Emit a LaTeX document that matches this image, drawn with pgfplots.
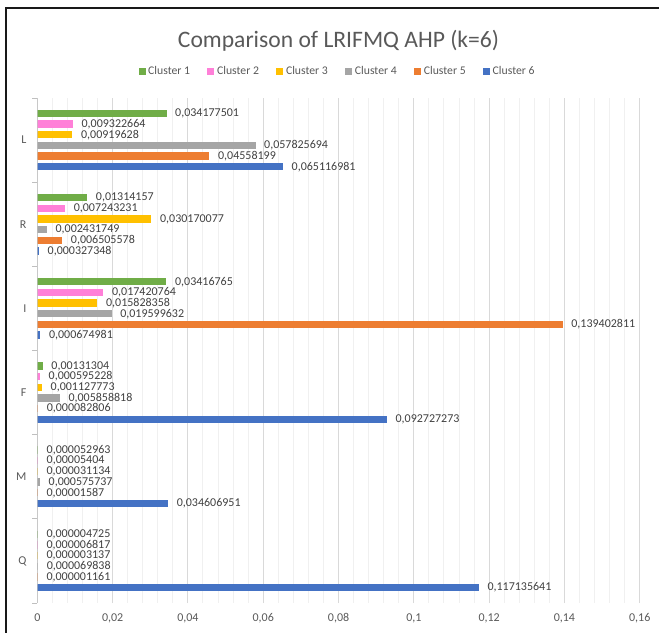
\documentclass[border=0pt]{standalone}
\usepackage{fontspec}
\setmainfont{Carlito}
\usepackage{pgfplots}
\usepackage{pgfplotstable}
\pgfplotsset{compat=1.18}
\definecolor{cA}{HTML}{70AD47}
\definecolor{cB}{HTML}{FF80D8}
\definecolor{cC}{HTML}{FFC000}
\definecolor{cD}{HTML}{A5A5A5}
\definecolor{cE}{HTML}{ED7D31}
\definecolor{cF}{HTML}{4472C4}
\definecolor{txtgray}{HTML}{595959}
\definecolor{lblgray}{HTML}{404040}
\definecolor{gridmaj}{HTML}{D9D9D9}
\definecolor{gridmin}{HTML}{F0F0F0}
\definecolor{axisgray}{HTML}{BFBFBF}

% y: Q=0, M=1, F=2, I=3, R=4, L=5
\pgfplotstableread{
y x lab
5 0.034177501 0,034177501
4 0.01314157 0,01314157
3 0.03416765 0,03416765
2 0.00131304 0,00131304
1 0.000052963 0,000052963
0 0.000004725 0,000004725
}\tabA
\pgfplotstableread{
y x lab
5 0.009322664 0,009322664
4 0.007243231 0,007243231
3 0.017420764 0,017420764
2 0.000595228 0,000595228
1 0.00005404 0,00005404
0 0.000006817 0,000006817
}\tabB
\pgfplotstableread{
y x lab
5 0.00919628 0,00919628
4 0.030170077 0,030170077
3 0.015828358 0,015828358
2 0.001127773 0,001127773
1 0.000031134 0,000031134
0 0.000003137 0,000003137
}\tabC
\pgfplotstableread{
y x lab
5 0.057825694 0,057825694
4 0.002431749 0,002431749
3 0.019599632 0,019599632
2 0.005858818 0,005858818
1 0.000575737 0,000575737
0 0.000069838 0,000069838
}\tabD
\pgfplotstableread{
y x lab
5 0.04558199 0,04558199
4 0.006505578 0,006505578
3 0.139402811 0,139402811
2 0.000082806 0,000082806
1 0.00001587 0,00001587
0 0.000001161 0,000001161
}\tabE
\pgfplotstableread{
y x lab
5 0.065116981 0,065116981
4 0.000327348 0,000327348
3 0.000674981 0,000674981
2 0.092727273 0,092727273
1 0.034606951 0,034606951
0 0.117135641 0,117135641
}\tabF

\begin{document}
\begin{tikzpicture}
\useasboundingbox (0,0) rectangle (494.25pt,474pt);
\begin{axis}[
  at={(28pt,21.75pt)}, anchor=south west,
  scale only axis, width=451.8pt, height=378.75pt,
  xbar, bar width=0.076,
  xmin=0, xmax=0.16, ymin=-0.5, ymax=5.5,
  xtick={0,0.02,0.04,0.06,0.08,0.1,0.12,0.14,0.16},
  xticklabels={0,{0,02},{0,04},{0,06},{0,08},{0,1},{0,12},{0,14},{0,16}},
  minor x tick num=4,
  xmajorgrids, xminorgrids,
  major grid style={draw=gridmaj, line width=0.75pt},
  minor grid style={draw=gridmin, line width=0.75pt},
  ytick={0,1,2,3,4,5}, yticklabels={Q,M,F,I,R,L},
  extra y ticks={-0.5,0.5,1.5,2.5,3.5,4.5,5.5}, extra y tick labels={},
  extra y tick style={major tick length=3.75pt, tick align=outside, tick style={draw=axisgray, line width=0.75pt}},
  major tick length=0pt, minor tick length=0pt,
  ytick pos=left, xtick pos=bottom,
  axis line style={draw=none},
  xticklabel style={font=\fontsize{9}{10}\selectfont, text=txtgray, inner sep=0pt, anchor=north, yshift=-7.5pt},
  yticklabel style={font=\fontsize{9}{10}\selectfont, text=txtgray, inner sep=0pt, anchor=east, xshift=-8pt},
  point meta=explicit symbolic,
  nodes near coords,
  nodes near coords style={font=\fontsize{9}{9}\selectfont, text=lblgray, inner sep=0pt, anchor=west, xshift=6.5pt},
  title={Comparison of LRIFMQ AHP (k=6)},
  title style={at={(0.5,1)}, anchor=center, yshift=37pt, font=\fontsize{17.7}{20}\selectfont, text=txtgray},
  legend columns=6,
  legend style={at={(0.499,1)}, anchor=center, yshift=20pt, draw=none, fill=none,
    font=\fontsize{8.8}{10}\selectfont, text=txtgray,
    /tikz/every even column/.append style={column sep=11pt}},
  legend cell align=left,
  legend image code/.code={\fill[#1] (0pt,-2.25pt) rectangle (4.5pt,2.25pt);},
]
\addplot[fill=cA, draw=cA, line width=0.75pt, bar shift=0.317] table[x=x, y=y, meta=lab] {\tabA};
\addlegendentry{Cluster 1}
\addplot[fill=cB, draw=cB, line width=0.75pt, bar shift=0.190] table[x=x, y=y, meta=lab] {\tabB};
\addlegendentry{Cluster 2}
\addplot[fill=cC, draw=cC, line width=0.75pt, bar shift=0.063] table[x=x, y=y, meta=lab] {\tabC};
\addlegendentry{Cluster 3}
\addplot[fill=cD, draw=cD, line width=0.75pt, bar shift=-0.063] table[x=x, y=y, meta=lab] {\tabD};
\addlegendentry{Cluster 4}
\addplot[fill=cE, draw=cE, line width=0.75pt, bar shift=-0.190] table[x=x, y=y, meta=lab] {\tabE};
\addlegendentry{Cluster 5}
\addplot[fill=cF, draw=cF, line width=0.75pt, bar shift=-0.317] table[x=x, y=y, meta=lab] {\tabF};
\addlegendentry{Cluster 6}
\draw[axisgray, line width=0.75pt] (rel axis cs:0,0) -- (rel axis cs:0,1);
\end{axis}
\draw[line width=1.5pt, black!90] (4.5pt,-20pt) rectangle (540pt,467.8pt);
\end{tikzpicture}
\end{document}
